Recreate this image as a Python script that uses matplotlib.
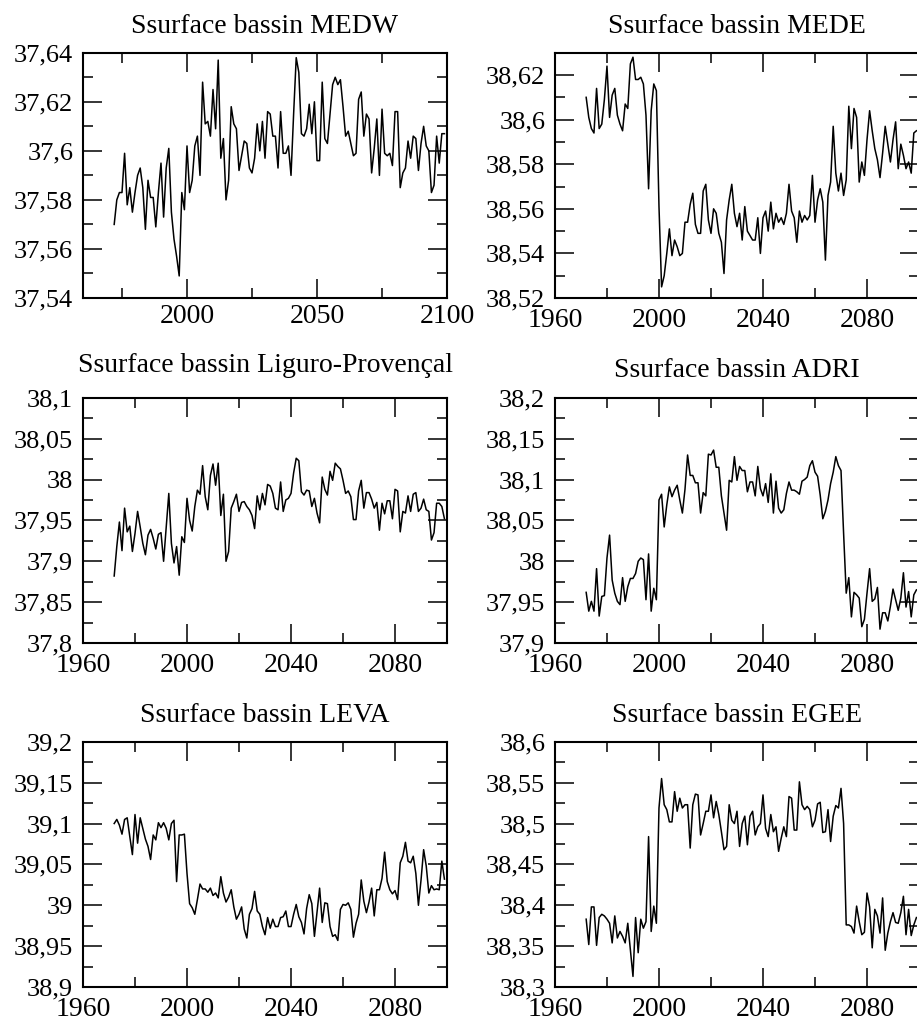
import numpy as np
import matplotlib
matplotlib.use("Agg")
import matplotlib.pyplot as plt
from matplotlib.ticker import MultipleLocator, FuncFormatter

plt.rcParams['font.family'] = ['Liberation Serif', 'DejaVu Serif']

years = np.arange(1972, 2100)

medw = [37.570, 37.580, 37.583, 37.583, 37.599, 37.578, 37.585, 37.575, 37.583, 37.590,
        37.593, 37.585, 37.568, 37.588, 37.581, 37.581, 37.569, 37.583, 37.595, 37.573,
        37.593, 37.601, 37.575, 37.564, 37.557, 37.549, 37.583, 37.576, 37.602, 37.583,
        37.588, 37.602, 37.606, 37.590, 37.628, 37.611, 37.612, 37.606, 37.625, 37.609,
        37.637, 37.597, 37.605, 37.580, 37.588, 37.618, 37.611, 37.609, 37.592, 37.598,
        37.604, 37.603, 37.593, 37.591, 37.597, 37.611, 37.600, 37.612, 37.597, 37.616,
        37.615, 37.606, 37.606, 37.593, 37.616, 37.599, 37.599, 37.602, 37.590, 37.615,
        37.638, 37.632, 37.607, 37.606, 37.609, 37.619, 37.607, 37.620, 37.596, 37.596,
        37.628, 37.605, 37.603, 37.615, 37.627, 37.630, 37.627, 37.629, 37.618, 37.606,
        37.608, 37.603, 37.598, 37.599, 37.621, 37.624, 37.606, 37.615, 37.613, 37.591,
        37.601, 37.613, 37.590, 37.617, 37.599, 37.598, 37.599, 37.594, 37.616, 37.616,
        37.585, 37.591, 37.593, 37.604, 37.597, 37.606, 37.605, 37.592, 37.603, 37.610,
        37.602, 37.600, 37.583, 37.586, 37.606, 37.595, 37.607, 37.607]

mede = [38.610, 38.601, 38.596, 38.594, 38.614, 38.596, 38.598, 38.609, 38.624, 38.601,
        38.611, 38.614, 38.602, 38.598, 38.595, 38.607, 38.605, 38.625, 38.628, 38.618,
        38.618, 38.619, 38.616, 38.602, 38.569, 38.604, 38.616, 38.613, 38.561, 38.525,
        38.530, 38.540, 38.551, 38.539, 38.546, 38.543, 38.539, 38.540, 38.554, 38.554,
        38.562, 38.567, 38.553, 38.549, 38.549, 38.568, 38.571, 38.555, 38.549, 38.560,
        38.558, 38.549, 38.545, 38.531, 38.555, 38.564, 38.571, 38.558, 38.552, 38.558,
        38.546, 38.561, 38.550, 38.548, 38.546, 38.546, 38.556, 38.540, 38.556, 38.559,
        38.550, 38.563, 38.551, 38.558, 38.554, 38.556, 38.553, 38.558, 38.571, 38.559,
        38.556, 38.545, 38.559, 38.554, 38.557, 38.555, 38.557, 38.575, 38.554, 38.564,
        38.569, 38.563, 38.537, 38.566, 38.572, 38.597, 38.576, 38.568, 38.576, 38.566,
        38.573, 38.606, 38.587, 38.605, 38.601, 38.572, 38.581, 38.575, 38.591, 38.604,
        38.595, 38.587, 38.582, 38.574, 38.585, 38.597, 38.589, 38.581, 38.591, 38.599,
        38.578, 38.589, 38.584, 38.578, 38.581, 38.576, 38.594, 38.595]

liguro = [37.882, 37.918, 37.948, 37.913, 37.965, 37.936, 37.943, 37.912, 37.934, 37.961,
          37.942, 37.922, 37.908, 37.932, 37.939, 37.928, 37.915, 37.933, 37.935, 37.900,
          37.942, 37.983, 37.922, 37.898, 37.918, 37.883, 37.930, 37.923, 37.977, 37.950,
          37.937, 37.967, 37.987, 37.982, 38.017, 37.979, 37.963, 38.005, 38.019, 37.993,
          38.020, 37.956, 37.982, 37.900, 37.912, 37.965, 37.973, 37.982, 37.961, 37.972,
          37.973, 37.967, 37.963, 37.956, 37.940, 37.980, 37.963, 37.983, 37.969, 37.994,
          37.992, 37.983, 37.965, 37.963, 37.997, 37.961, 37.975, 37.977, 37.983, 38.008,
          38.026, 38.023, 37.985, 37.981, 37.987, 37.986, 37.967, 37.977, 37.959, 37.947,
          38.003, 37.988, 37.981, 38.010, 37.999, 38.020, 38.016, 38.013, 37.999, 37.983,
          37.986, 37.979, 37.951, 37.951, 37.986, 37.999, 37.965, 37.984, 37.984, 37.976,
          37.965, 37.972, 37.938, 37.971, 37.958, 37.974, 37.974, 37.952, 37.988, 37.986,
          37.936, 37.961, 37.959, 37.980, 37.961, 37.982, 37.984, 37.961, 37.965, 37.976,
          37.963, 37.961, 37.926, 37.935, 37.971, 37.971, 37.967, 37.952]

adri = [37.962, 37.939, 37.951, 37.939, 37.991, 37.933, 37.957, 37.958, 38.004, 38.032,
        37.977, 37.961, 37.951, 37.947, 37.980, 37.951, 37.969, 37.979, 37.979, 37.985,
        38.000, 38.004, 38.002, 37.953, 38.009, 37.939, 37.967, 37.953, 38.075, 38.082,
        38.042, 38.069, 38.091, 38.079, 38.087, 38.093, 38.075, 38.059, 38.088, 38.130,
        38.105, 38.105, 38.096, 38.096, 38.059, 38.084, 38.080, 38.131, 38.130, 38.136,
        38.115, 38.115, 38.080, 38.059, 38.038, 38.099, 38.097, 38.128, 38.099, 38.116,
        38.111, 38.111, 38.085, 38.097, 38.097, 38.080, 38.116, 38.089, 38.080, 38.095,
        38.072, 38.107, 38.059, 38.098, 38.065, 38.059, 38.063, 38.083, 38.097, 38.087,
        38.087, 38.085, 38.082, 38.098, 38.100, 38.103, 38.117, 38.123, 38.109, 38.104,
        38.081, 38.052, 38.061, 38.075, 38.095, 38.109, 38.128, 38.117, 38.111, 38.034,
        37.961, 37.980, 37.932, 37.962, 37.959, 37.955, 37.920, 37.929, 37.961, 37.991,
        37.951, 37.954, 37.968, 37.917, 37.937, 37.937, 37.927, 37.945, 37.966, 37.953,
        37.940, 37.955, 37.986, 37.944, 37.963, 37.932, 37.959, 37.965]

leva = [39.100, 39.105, 39.098, 39.087, 39.105, 39.107, 39.084, 39.062, 39.111, 39.076,
        39.107, 39.094, 39.081, 39.072, 39.056, 39.086, 39.080, 39.101, 39.095, 39.101,
        39.094, 39.080, 39.100, 39.104, 39.029, 39.086, 39.086, 39.087, 39.039, 39.002,
        38.997, 38.989, 39.007, 39.026, 39.020, 39.020, 39.016, 39.021, 39.012, 39.015,
        39.009, 39.035, 39.015, 39.004, 39.010, 39.019, 38.998, 38.983, 38.989, 38.998,
        38.971, 38.960, 38.989, 38.996, 39.017, 38.993, 38.989, 38.974, 38.964, 38.985,
        38.972, 38.983, 38.974, 38.974, 38.985, 38.986, 38.993, 38.974, 38.974, 38.989,
        39.001, 38.986, 38.979, 38.965, 38.996, 39.013, 39.002, 38.962, 38.991, 39.021,
        38.979, 39.003, 39.002, 38.974, 38.962, 38.964, 38.957, 38.995, 39.001, 39.000,
        39.003, 38.995, 38.961, 38.978, 38.989, 39.031, 39.005, 38.991, 39.004, 39.021,
        38.987, 39.019, 39.019, 39.033, 39.065, 39.029, 39.019, 39.014, 39.018, 39.007,
        39.052, 39.060, 39.077, 39.054, 39.052, 39.060, 39.039, 39.000, 39.031, 39.068,
        39.048, 39.015, 39.024, 39.019, 39.020, 39.019, 39.054, 39.032]

egee = [38.383, 38.352, 38.398, 38.398, 38.351, 38.385, 38.389, 38.387, 38.383, 38.378,
        38.354, 38.387, 38.360, 38.368, 38.362, 38.354, 38.378, 38.346, 38.313, 38.385,
        38.342, 38.383, 38.372, 38.380, 38.484, 38.368, 38.399, 38.378, 38.519, 38.555,
        38.523, 38.517, 38.502, 38.502, 38.539, 38.515, 38.531, 38.519, 38.523, 38.523,
        38.470, 38.523, 38.536, 38.535, 38.486, 38.500, 38.515, 38.515, 38.535, 38.507,
        38.527, 38.511, 38.490, 38.468, 38.472, 38.523, 38.504, 38.500, 38.515, 38.472,
        38.500, 38.509, 38.474, 38.509, 38.515, 38.486, 38.496, 38.500, 38.535, 38.494,
        38.484, 38.511, 38.490, 38.496, 38.466, 38.482, 38.496, 38.484, 38.533, 38.531,
        38.492, 38.492, 38.551, 38.523, 38.517, 38.521, 38.517, 38.496, 38.504, 38.524,
        38.526, 38.489, 38.490, 38.517, 38.478, 38.509, 38.522, 38.519, 38.543, 38.500,
        38.376, 38.376, 38.374, 38.366, 38.399, 38.380, 38.364, 38.367, 38.415, 38.398,
        38.348, 38.395, 38.387, 38.366, 38.409, 38.345, 38.366, 38.380, 38.391, 38.379,
        38.378, 38.391, 38.411, 38.364, 38.395, 38.363, 38.376, 38.385]

titles = ['Ssurface bassin MEDW', 'Ssurface bassin MEDE',
          'Ssurface bassin Liguro-Provençal', 'Ssurface bassin ADRI',
          'Ssurface bassin LEVA', 'Ssurface bassin EGEE']
series = [medw, mede, liguro, adri, leva, egee]
ylims = [(37.54, 37.64), (38.52, 38.63), (37.8, 38.1),
         (37.9, 38.2), (38.9, 39.2), (38.3, 38.6)]
ysteps = [0.02, 0.02, 0.05, 0.05, 0.05, 0.05]
xsteps = [50, 40, 40, 40, 40, 40]


def comma(v, pos):
    s = ('%.3f' % v).rstrip('0').rstrip('.')
    return s.replace('.', ',')


fig = plt.figure(figsize=(9.17, 10.22), dpi=100)

# axes boxes in figure fractions: left column, right column x three rows
lefts = [0.0905, 0.6052]
bottoms = [0.7084, 0.3708, 0.0342]
w, h = 0.397, 0.2400
title_pads = [14.5, 14.5, 18.5, 15.0, 14.5, 14.5]
xpads = [4, 7, 7, 7, 7, 7]

for i in range(6):
    ax = fig.add_axes([lefts[i % 2], bottoms[i // 2], w, h])
    ax.plot(years, series[i], color='black', lw=1.1)
    ax.set_xlim(1960, 2100)
    ax.set_ylim(*ylims[i])
    ax.xaxis.set_major_locator(MultipleLocator(xsteps[i]))
    ax.xaxis.set_minor_locator(MultipleLocator(xsteps[i] / 2))
    ax.yaxis.set_major_locator(MultipleLocator(ysteps[i]))
    ax.yaxis.set_minor_locator(MultipleLocator(ysteps[i] / 2))
    ax.yaxis.set_major_formatter(FuncFormatter(comma))
    ax.tick_params(which='both', direction='in', top=True, right=True, width=1.1)
    ax.tick_params(which='major', length=14)
    ax.tick_params(which='minor', length=7)
    ax.tick_params(axis='y', labelsize=19, pad=7)
    ax.tick_params(axis='x', labelsize=20, pad=xpads[i])
    for sp in ax.spines.values():
        sp.set_linewidth(1.5)
    ax.set_title(titles[i], fontsize=20, y=1.0, pad=title_pads[i])

fig.savefig('out.png', dpi=100)
